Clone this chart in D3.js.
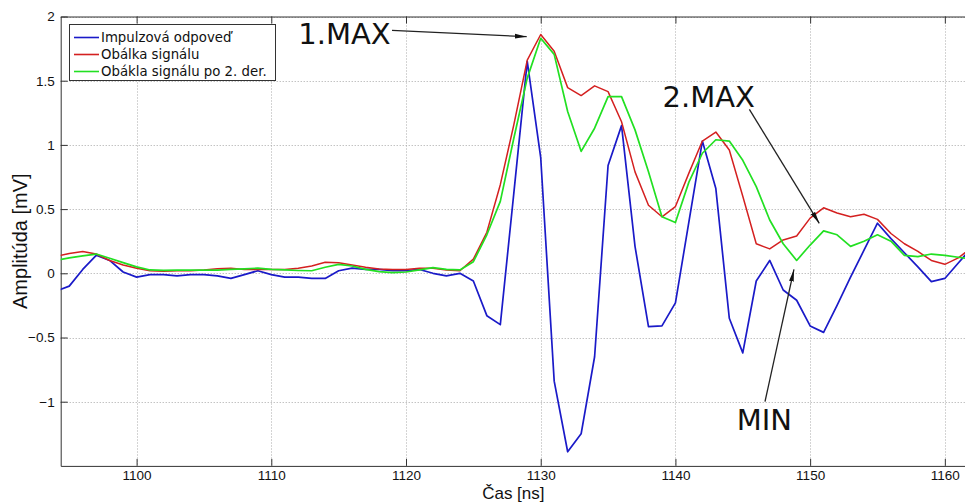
<!DOCTYPE html>
<html><head><meta charset="utf-8">
<script src="https://cdn.jsdelivr.net/npm/d3@7"></script>
<style>body{margin:0;background:#fff}svg{display:block}</style>
</head><body><svg id="c" width="965" height="502"></svg>
<script>
const times = [1094,1095,1096,1097,1098,1099,1100,1101,1102,1103,1104,1105,1106,1107,1108,1109,1110,1111,1112,1113,1114,1115,1116,1117,1118,1119,1120,1121,1122,1123,1124,1125,1126,1127,1128,1129,1130,1131,1132,1133,1134,1135,1136,1137,1138,1139,1140,1141,1142,1143,1144,1145,1146,1147,1148,1149,1150,1151,1152,1153,1154,1155,1156,1157,1158,1159,1160,1161,1162];
const impulse = [-0.14,-0.10,0.03,0.14,0.10,0.01,-0.03,-0.01,-0.01,-0.02,-0.01,-0.01,-0.02,-0.04,-0.01,0.02,-0.01,-0.03,-0.03,-0.04,-0.04,0.02,0.04,0.03,0.03,0.02,0.02,0.03,0.00,-0.02,0.00,-0.06,-0.33,-0.40,0.62,1.65,0.90,-0.84,-1.39,-1.25,-0.65,0.84,1.15,0.21,-0.415,-0.41,-0.23,0.40,1.03,0.66,-0.35,-0.62,-0.06,0.10,-0.13,-0.21,-0.41,-0.46,-0.25,-0.03,0.18,0.39,0.27,0.16,0.05,-0.065,-0.04,0.08,0.20];
const envelope = [0.13,0.155,0.17,0.15,0.10,0.065,0.04,0.02,0.016,0.02,0.02,0.026,0.035,0.04,0.03,0.03,0.03,0.03,0.04,0.057,0.086,0.083,0.065,0.047,0.034,0.03,0.03,0.04,0.04,0.026,0.02,0.11,0.32,0.69,1.155,1.66,1.86,1.73,1.446,1.384,1.46,1.415,1.18,0.79,0.53,0.44,0.52,0.78,1.03,1.10,0.96,0.60,0.23,0.19,0.26,0.29,0.43,0.51,0.47,0.44,0.46,0.42,0.31,0.23,0.17,0.10,0.07,0.12,0.20];
const envelope2 = [0.10,0.12,0.135,0.15,0.117,0.083,0.05,0.026,0.023,0.025,0.025,0.025,0.025,0.03,0.035,0.04,0.03,0.026,0.022,0.02,0.047,0.07,0.057,0.03,0.013,0.005,0.01,0.026,0.044,0.03,0.026,0.09,0.30,0.56,1.05,1.52,1.83,1.705,1.26,0.95,1.13,1.376,1.376,1.117,0.79,0.44,0.395,0.71,0.935,1.04,1.03,0.88,0.675,0.415,0.23,0.10,0.22,0.33,0.30,0.21,0.25,0.30,0.25,0.14,0.13,0.15,0.14,0.125,0.11];
const xTicks = [1100,1110,1120,1130,1140,1150,1160];
const yTicks = [-1,-0.5,0,0.5,1,1.5,2];
const seriesNames = ["Impulzová odpoveď","Obálka signálu","Obákla signálu po 2. der."];
const seriesColors = ["#1a1ac8","#d42020","#22e022"];
const xLabel = "Čas [ns]";
const yLabel = "Amplitúda [mV]";
const annLabels = ["1.MAX","2.MAX","MIN"];
const annTextX = [1112.0,1139.04,1144.55];
const annTextY = [1.786,1.299,-1.22];
const annFromX = [1118.96,1145.49,1146.65];
const annFromY = [1.892,1.277,-1.0];
const annToX = [1128.96,1150.68,1148.8];
const annToY = [1.843,0.389,0.03];

const svg = d3.select("#c");
const L = 60.7, R = 968, T = 16.5, B = 465.9;
const x = d3.scaleLinear().domain([1094.365,1161.72]).range([L,R]);
const y = d3.scaleLinear().domain([-1.5,2]).range([B,T]);

svg.append("rect").attr("width",965).attr("height",502).attr("fill","#fff");
svg.append("defs").append("clipPath").attr("id","clip").append("rect")
  .attr("x",L).attr("y",T).attr("width",R-L).attr("height",B-T);
svg.select("defs").append("marker").attr("id","arr").attr("viewBox","0 0 12 6")
  .attr("refX",12).attr("refY",3).attr("markerWidth",12).attr("markerHeight",6)
  .attr("markerUnits","userSpaceOnUse").attr("orient","auto")
  .append("path").attr("d","M0,0.6L12,3L0,5.4Z").attr("fill","#111");

// grid
const grid = svg.append("g").attr("stroke","#a8a8a8").attr("stroke-width",1).attr("stroke-dasharray","1,2");
grid.selectAll(".gx").data(xTicks).join("line")
  .attr("x1",d=>Math.round(x(d))+0.5).attr("x2",d=>Math.round(x(d))+0.5).attr("y1",T).attr("y2",B);
grid.selectAll(".gy").data(yTicks).join("line")
  .attr("y1",d=>Math.round(y(d))+0.5).attr("y2",d=>Math.round(y(d))+0.5).attr("x1",L).attr("x2",R);

// axes
const fmt = d => d3.format("")(d);
const axB = svg.append("g").attr("transform",`translate(0,${B})`)
  .call(d3.axisBottom(x).tickValues(xTicks).tickSizeInner(-7).tickSizeOuter(0).tickPadding(5).tickFormat(fmt));
const axT = svg.append("g").attr("transform",`translate(0,${T})`)
  .call(d3.axisTop(x).tickValues(xTicks).tickSizeInner(-7).tickSizeOuter(0).tickFormat(""));
const axL = svg.append("g").attr("transform",`translate(${L},0)`)
  .call(d3.axisLeft(y).tickValues(yTicks).tickSizeInner(-7).tickSizeOuter(0).tickPadding(6).tickFormat(fmt));
[axB,axT,axL].forEach(a=>{
  a.select(".domain").attr("stroke","#333");
  a.selectAll(".tick line").attr("stroke","#333");
  a.selectAll("text").attr("font-family","Liberation Sans, Arial, sans-serif").attr("font-size",13.5).attr("fill","#111");
});

// series
const line = d3.line().x((d,i)=>x(times[i])).y(d=>y(d));
const g = svg.append("g").attr("clip-path","url(#clip)").attr("fill","none").attr("stroke-linejoin","round");
[impulse,envelope,envelope2].forEach((s,k)=>{
  g.append("path").attr("d",line(s)).attr("stroke",seriesColors[k]).attr("stroke-width",k===1?1.5:1.7);
});

// axis labels
svg.append("text").attr("x",(L+R)/2-1).attr("y",499).attr("text-anchor","middle")
  .attr("font-family","Liberation Sans, Arial, sans-serif").attr("font-size",17).attr("fill","#111").text(xLabel);
svg.append("text").attr("transform",`translate(27,${(T+B)/2}) rotate(-90)`).attr("text-anchor","middle")
  .attr("font-family","Liberation Sans, Arial, sans-serif").attr("font-size",20).attr("fill","#111").text(yLabel);

// legend
const lg = svg.append("g");
lg.append("rect").attr("x",69.5).attr("y",24.5).attr("width",206).attr("height",56)
  .attr("fill","#fff").attr("stroke","#333").attr("stroke-width",1);
seriesNames.forEach((n,k)=>{
  const yy = 37.5 + k*17;
  lg.append("line").attr("x1",74).attr("x2",99).attr("y1",yy).attr("y2",yy).attr("stroke",seriesColors[k]).attr("stroke-width",1.6);
  lg.append("text").attr("x",101).attr("y",yy+4.5).attr("font-family","DejaVu Sans, sans-serif")
    .attr("font-size",13.3).attr("fill","#111").text(n);
});

// annotations
annLabels.forEach((t,k)=>{
  svg.append("line").attr("x1",x(annFromX[k])).attr("y1",y(annFromY[k]))
    .attr("x2",x(annToX[k])).attr("y2",y(annToY[k])).attr("stroke","#222").attr("stroke-width",1.3)
    .attr("marker-end","url(#arr)");
  svg.append("text").attr("x",x(annTextX[k])).attr("y",y(annTextY[k]))
    .attr("font-family","DejaVu Sans, sans-serif").attr("font-size",29).attr("fill","#111").text(t);
});
</script></body></html>
